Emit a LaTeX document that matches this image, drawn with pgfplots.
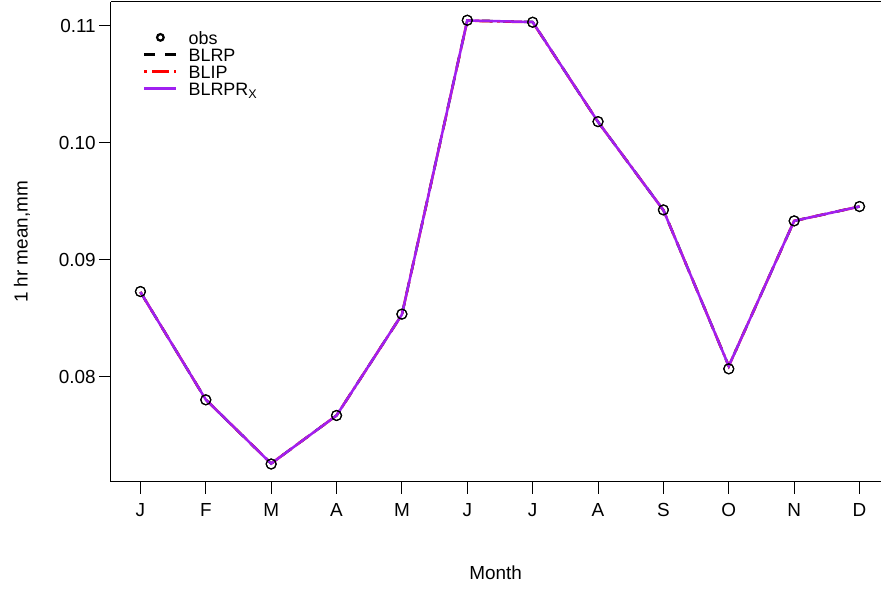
\documentclass[border=0pt]{standalone}
\usepackage{pgfplots}
\pgfplotsset{compat=1.18}
\usepackage{pgfplotstable}
\usepackage{fontspec}
\setmainfont{Liberation Sans}
\definecolor{rpurple}{HTML}{A020F0}
\definecolor{rred}{HTML}{FF0000}
\pgfplotstableread{
m obs blrp blip blrprx
1 0.08729 0.08725 0.08725 0.08725
2 0.07803 0.07805 0.07805 0.07805
3 0.07254 0.07258 0.07258 0.07258
4 0.07669 0.07669 0.07669 0.07669
5 0.08536 0.08532 0.08532 0.08532
6 0.11049 0.11047 0.11045 0.11047
7 0.11032 0.11034 0.11032 0.11034
8 0.10182 0.10180 0.10180 0.10180
9 0.09427 0.09425 0.09425 0.09425
10 0.08068 0.08092 0.08092 0.08092
11 0.09333 0.09333 0.09333 0.09333
12 0.09456 0.09456 0.09456 0.09456
}\data
\begin{document}
\begin{tikzpicture}
\path (-111bp,-108bp) rectangle (770bp,482bp);
\begin{axis}[
  at={(0,0)}, anchor=south west,
  width=770bp, height=480bp, scale only axis,
  xmin=0.549, xmax=12.321, ymin=0.071026, ymax=0.112051,
  axis x line*=bottom, axis y line*=left,
  axis line style={line width=1bp, black},
  clip=false,
  xtick={1,...,12}, xticklabels={J,F,M,A,M,J,J,A,S,O,N,D},
  ytick={0.08,0.09,0.10,0.11}, yticklabels={0.08,0.09,0.10,0.11},
  tick align=outside, major tick length=12bp,
  tick style={line width=1bp, black},
  ticklabel style={font=\fontsize{19}{22}\selectfont},
  xticklabel style={anchor=center, yshift=-16bp},
  yticklabel style={anchor=east, inner sep=3bp},
  xlabel={Month}, ylabel={1 hr mean,mm},
  label style={font=\fontsize{19}{22}\selectfont},
  xlabel style={at={(axis description cs:0.5,-0.1896)}, anchor=center},
  ylabel style={at={(axis description cs:-0.1156,0.5)}, anchor=center},
  legend cell align=left,
  legend style={at={(axis description cs:0.0416,0.936)}, anchor=north west,
    draw=none, fill=none, inner sep=0pt, row sep=0pt, column sep=11bp,
    font=\fontsize{18}{20}\selectfont,
    nodes={inner sep=0pt, text height=12bp, text depth=5bp}},
]
\addplot[only marks, mark=o, mark size=5bp, mark options={line width=1.1bp, black},
  legend image code/.code={\draw[black, line width=2.2bp] (16bp,4bp) circle (3.3bp);}]
  table[x=m, y=obs] {\data};
\addlegendentry{obs}
\addplot[black, line width=2.5bp, dash pattern=on 11bp off 10bp,
  legend image code/.code={\draw[black, line width=2.5bp, dash pattern=on 11bp off 10bp] (0bp,4bp) -- (32bp,4bp);}]
  table[x=m, y=blrp] {\data};
\addlegendentry{BLRP}
\addplot[rred, line width=2.5bp, dash pattern=on 3bp off 5bp on 17bp off 5bp,
  legend image code/.code={\draw[rred, line width=2.5bp, dash pattern=on 3bp off 5bp on 17bp off 5bp] (0bp,4bp) -- (32bp,4bp);}]
  table[x=m, y=blip] {\data};
\addlegendentry{BLIP}
\addplot[rpurple, line width=2.5bp,
  legend image code/.code={\draw[rpurple, line width=2.5bp] (0bp,4bp) -- (32bp,4bp);}]
  table[x=m, y=blrprx] {\data};
\addlegendentry{BLRPR\textsubscript{X}}
\addplot[only marks, mark=o, mark size=5bp, mark options={line width=1.1bp, black}, forget plot]
  table[x=m, y=obs] {\data};
\draw[line width=1bp, black] (rel axis cs:0,1) -- (rel axis cs:1,1);
\end{axis}
\end{tikzpicture}
\end{document}
